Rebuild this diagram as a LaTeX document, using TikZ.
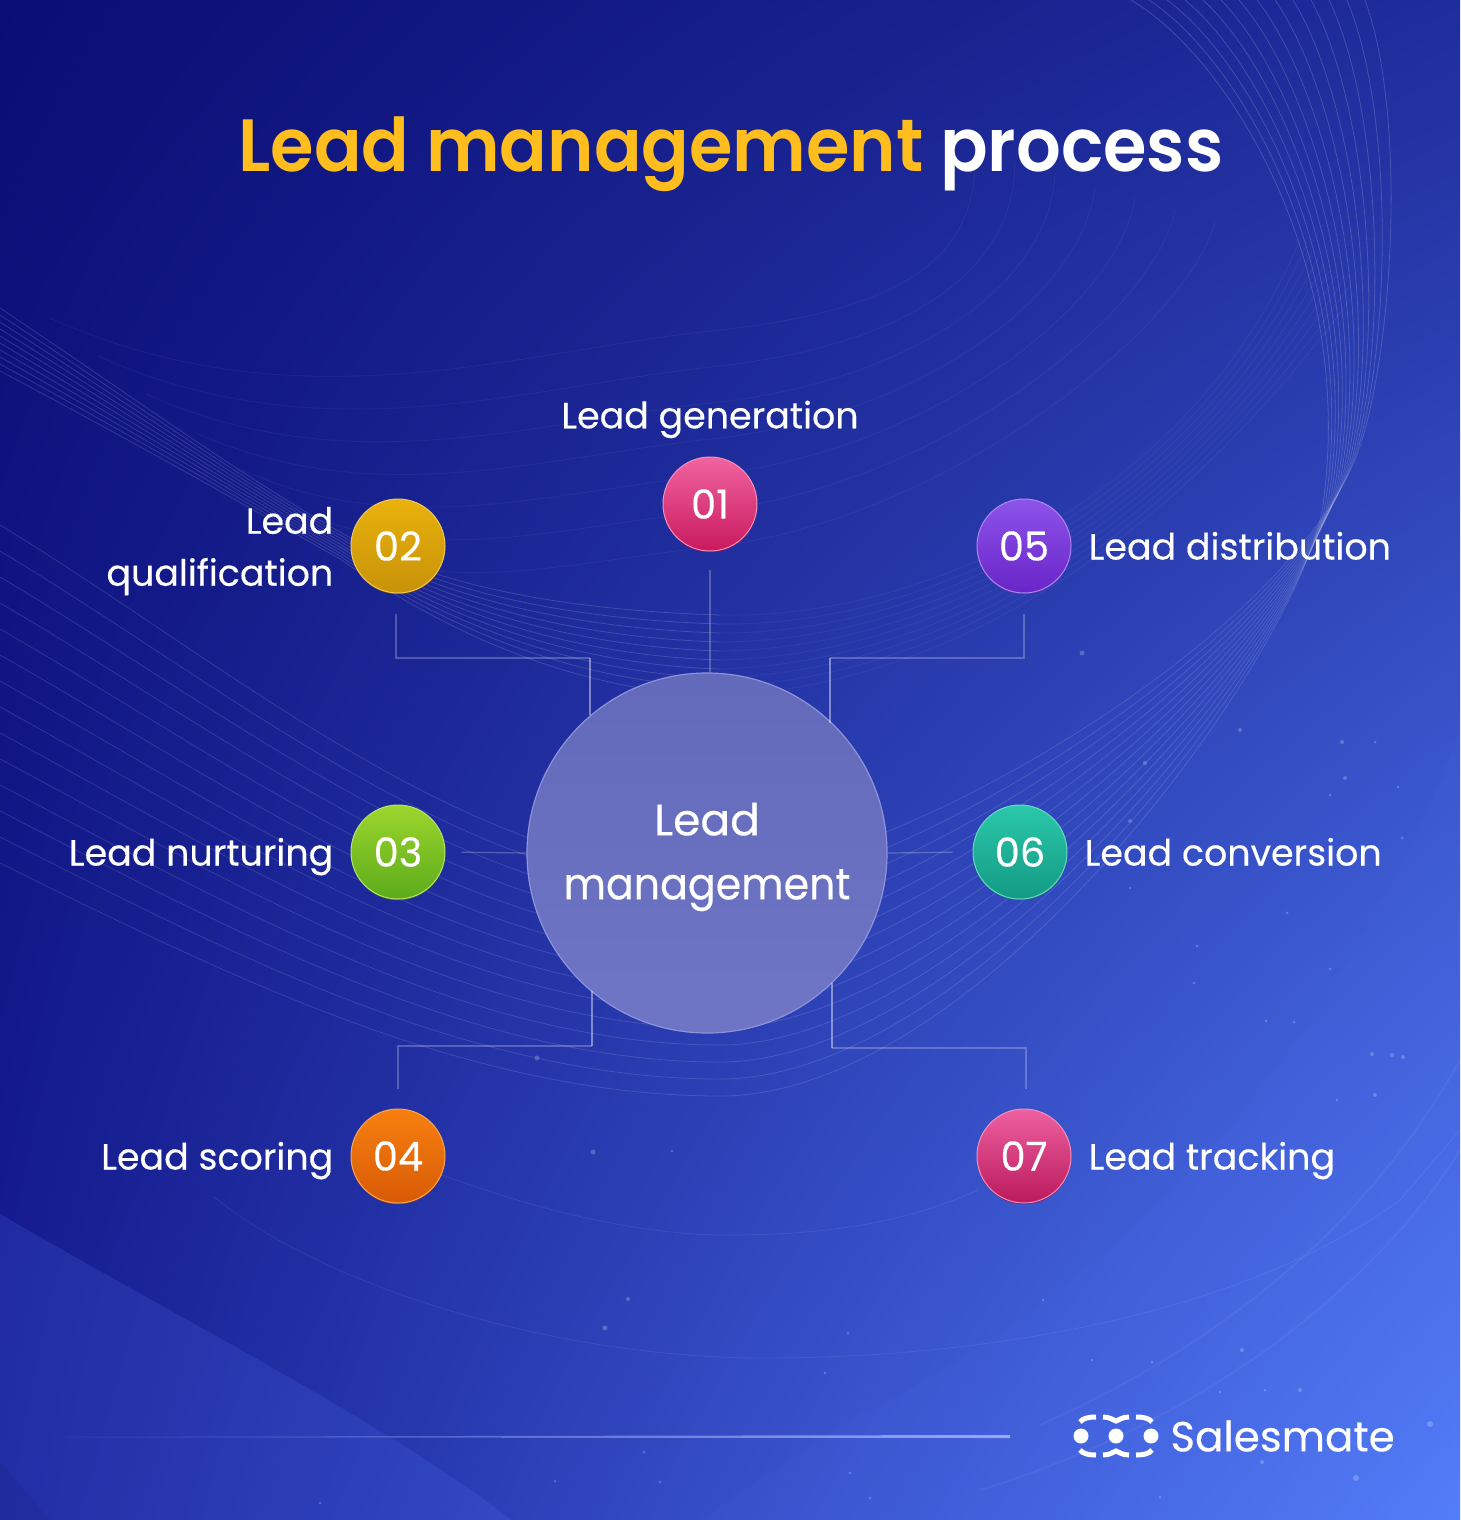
\documentclass[tikz,border=0pt]{standalone}
\usepackage{fontspec}
\setmainfont{Poppins}[FakeBold=0.3]
\newfontfamily\titlefont{Poppins SemiBold}[FakeStretch=0.95]
\usetikzlibrary{positioning,shadings}
\definecolor{leadyellow}{HTML}{FFBE1E}
\definecolor{hubfill}{HTML}{686EC2}
\definecolor{hubrim}{HTML}{8C93DA}
\definecolor{bgtl}{HTML}{0A0D74}
\definecolor{bgtr}{HTML}{1F2C9C}
\definecolor{bgbl}{HTML}{171E94}
\definecolor{bgbr}{HTML}{5580FC}
\definecolor{veil}{HTML}{4C68E8}
\definecolor{rulelow}{HTML}{2B3CB4}
\definecolor{rulehigh}{HTML}{9AA8F2}
\definecolor{pinktop}{HTML}{F0649F}
\definecolor{pinklow}{HTML}{C9195F}
\definecolor{pinkrim}{HTML}{A01050}
\definecolor{goldtop}{HTML}{E9B20C}
\definecolor{goldlow}{HTML}{C8920A}
\definecolor{goldrim}{HTML}{7A5A08}
\definecolor{limetop}{HTML}{9CD62E}
\definecolor{limelow}{HTML}{5CAB1A}
\definecolor{limerim}{HTML}{3F7A10}
\definecolor{orangetop}{HTML}{F7800F}
\definecolor{orangelow}{HTML}{D85A06}
\definecolor{orangerim}{HTML}{A84504}
\definecolor{violettop}{HTML}{8C54EA}
\definecolor{violetlow}{HTML}{6A24C8}
\definecolor{violetrim}{HTML}{5A30B0}
\definecolor{tealtop}{HTML}{2AC8AA}
\definecolor{teallow}{HTML}{149A84}
\definecolor{tealrim}{HTML}{0F7A68}
\definecolor{rosetop}{HTML}{EE60A0}
\definecolor{roselow}{HTML}{BA1A5C}
\definecolor{roserim}{HTML}{8E1045}
\tikzset{
  wave/.style={white,line width=0.8pt,opacity=#1},
  wave/.default=0.13,
  wire/.style={white,opacity=0.42,line width=1.4pt},
  wirefaint/.style={white,opacity=0.24,line width=1.2pt},
  badge/.style={circle,minimum size=94pt,inner sep=0pt,text=white,
    top color=#1top,bottom color=#1low,draw=#1top!70!white,line width=1pt,
    preaction={fill=#1rim,transform canvas={yshift=-1.2pt}},
    font=\fontsize{40}{40}\selectfont},
  caption/.style={text=white,inner sep=0pt,text height=27pt,text depth=0pt,font=\fontsize{36.4}{52}\selectfont},
  spark/.style={fill=white,opacity=0.22},
}
\begin{document}
\begin{tikzpicture}[x=1pt,y=-1pt]
  \useasboundingbox (0,0) rectangle (1460,1520);
  % background
  \shade[upper left=bgtl,upper right=bgtr,lower left=bgbl,lower right=bgbr] (0,0) rectangle (1460,1520);
  \fill[veil,opacity=0.22] (0,1214) .. controls (200,1330) and (380,1420) .. (512,1520) -- (0,1520) -- cycle;
  \fill[black,opacity=0.05] (0,1462) -- (50,1520) -- (0,1520) -- cycle;
  \fill[veil,opacity=0.12] (1460,730) .. controls (1380,950) and (1200,1250) .. (850,1420) -- (700,1520) -- (1460,1520) -- cycle;
  \draw[white,opacity=0.05,line width=2pt] (1040,1425) .. controls (1230,1340) and (1370,1220) .. (1460,1060);
  \draw[white,opacity=0.05,line width=2pt] (980,1490) .. controls (1210,1420) and (1380,1280) .. (1460,1150);
  \begin{scope}
    \clip (0,0) rectangle (1460,1520);
    % waves under the title
    \foreach \i in {0,...,6} {
      \draw[wave=0.05] ({50+48*\i},{318+38*\i}) .. controls ({300+25*\i},{430+28*\i}) and ({520+10*\i},{350+35*\i}) .. (720,{330+36*\i})
        .. controls ({900+10*\i},{310+34*\i}) and ({980+35*\i},{260+10*\i}) .. ({975+40*\i},{150+12*\i});
    }
    % swoosh on the left, opening towards the hub and rising again
    \foreach \i in {0,...,9} {
      \draw[wave=0.15] (0,{308+7*\i}) .. controls (130,{395+5*\i}) and (240,{475+3*\i}) .. (340,{532+3*\i})
        .. controls (430,{585+4*\i}) and (560,{610+9*\i}) .. (720,{615+9*\i});
      \draw[wave=0.05] (720,{615+9*\i}) .. controls ({920+6*\i},{620+7*\i}) and (1190,{500+2*\i}) .. ({1300+6*\i},{240+6*\i});
    }
    % long bowls, left to right, up into the fan
    \foreach \i in {0,...,13} {
      \draw[wave] (0,{525+26*\i}) .. controls (230,{665+24*\i}) and (470,{875+17*\i}) .. (720,{875+17*\i})
        .. controls ({880+8*\i},{875+17*\i}) and (1302,{638+0.8*\i}) .. ({1362-3*\i},{440+5*\i});
      \draw[wave=0.17] ({1362-3*\i},{440+5*\i}) .. controls ({1395-3*\i},{330-5*\i}) and ({1405-13.5*\i},{110-4*\i}) .. ({1365-18*\i},0);
    }
    % wide bowls near the foot
    \draw[wave=0.08] (380,1150) .. controls (520,1210) and (640,1235) .. (726,1235) .. controls (820,1235) and (900,1225) .. (978,1190);
    \draw[wave=0.08] (214,1197) .. controls (330,1290) and (560,1358) .. (764,1358) .. controls (1000,1358) and (1250,1310) .. (1400,1200) -- (1460,1130);
  \end{scope}
  % specks
  \foreach \x/\y/\r in {1082/653/2.5,1240/730/2,1342/742/2,1375/742/1.5,1145/763/2,1345/778/2,1398/787/1.5,1330/795/1.5,1130/821/2,1402/838/1.5,
    1130/888/1.5,1287/913/1.5,1197/946/1.5,1294/1022/1.5,1330/969/1.5,1194/983/1.5,1266/1021/1.5,1392/1055/2,1372/1054/2,537/1058/2.5,
    593/1152/2.5,672/1151/1.5,1375/1095/2,1337/1100/1.5,1403/1057/2,628/1299/2,605/1328/2.5,848/1333/1.5,1043/1300/1.5,1152/1362/1.5,
    1242/1350/2,1265/1390/1.5,1300/1390/2,1220/1392/1.5,1430/1424/3,1356/1478/3,1262/1462/2,1160/1497/1.5,555/1481/1.5,660/1482/1.5,
    320/1503/1.5,870/1498/1.5,1092/1360/1.5,825/1373/1.5,644/1452/1.5,850/1473/1.5} {
    \fill[spark] (\x,\y) circle (\r);
  }
  % rule at the foot
  \shade[left color=rulelow,right color=rulehigh] (65,1436.7) -- (1010,1435) -- (1010,1438) -- (65,1437.5) -- cycle;
  % title
  \node[inner sep=0pt,text=white,font=\titlefont\fontsize{74}{74}\selectfont] (title) at (731,154) {\textcolor{leadyellow}{Lead management} process};
  % hub
  \node[circle,minimum size=360pt,inner sep=0pt,top color=hubfill!96!black,bottom color=hubfill!95!white,draw=hubrim,line width=1.2pt] (hub) at (707,853) {};
  \node[text=white,align=center,inner sep=0pt,yshift=-4pt,font=\fontsize{44}{64}\selectfont] (hubtext) at (hub) {Lead\\\scalebox{0.935}[1]{management}};
  % badges
  \node[badge=pink] (n01) at (710,504) {01};
  \node[badge=gold] (n02) at (398,546) {02};
  \node[badge=lime] (n03) at (398,852) {03};
  \node[badge=orange] (n04) at (398,1156) {04};
  \node[badge=violet] (n05) at (1024,546) {05};
  \node[badge=teal] (n06) at (1020,852) {06};
  \node[badge=rose] (n07) at (1024,1156) {07};
  % labels
  \node[caption,above=28pt of n01] (lab01) {Lead generation};
  \node[text=white,inner sep=0pt,font=\fontsize{36.4}{52}\selectfont,left=17pt of n02,align=right,yshift=-5pt] (lab02) {Lead\\qualification};
  \node[caption,left=17pt of n03] (lab03) {Lead nurturing};
  \node[caption,left=17pt of n04] (lab04) {Lead scoring};
  \node[caption,right=17pt of n05] (lab05) {Lead distribution};
  \node[caption,right=17pt of n06] (lab06) {Lead conversion};
  \node[caption,right=17pt of n07] (lab07) {Lead tracking};
  % connectors
  \coordinate (bend02) at (590,658);
  \coordinate (bend04) at (592,1046);
  \coordinate (bend05) at (830,658);
  \coordinate (bend07) at (832,1048);
  \draw[wirefaint,shorten <=18pt] (n01.south) -- (hub.north -| n01.south);
  \draw[wirefaint,shorten <=20pt] ([xshift=-2pt]n02.south) |- (bend02);
  \draw[wire] (bend02) -- (bend02 |- hub.130.5);
  \draw[wirefaint,shorten <=16pt] (n03.east) -- (hub.west);
  \draw[wirefaint,shorten <=20pt] (n04.north) |- (bend04);
  \draw[wire] (bend04) -- (bend04 |- hub.230);
  \draw[wirefaint,shorten <=20pt] (n05.south) |- (bend05);
  \draw[wire] (bend05) -- (bend05 |- hub.46.9);
  \draw[wirefaint,shorten <=20pt] (n06.west) -- (hub.east);
  \draw[wirefaint,shorten <=20pt] ([xshift=2pt]n07.north) |- (bend07);
  \draw[wire] (bend07) -- (bend07 |- hub.314);
  % logo
  \node[circle,fill=white,minimum size=15pt,inner sep=0pt] (dotL) at (1081,1436) {};
  \node[circle,fill=white,minimum size=15pt,inner sep=0pt] (dotM) at (1116,1436) {};
  \node[circle,fill=white,minimum size=15pt,inner sep=0pt] (dotR) at (1151,1436) {};
  \foreach \s in {-1,1} {
    \draw[white,line width=5pt] (1080,{1436+\s*14}) .. controls (1083,{1436+\s*18}) and (1089,{1436+\s*19}) .. (1096,{1436+\s*19});
    \draw[white,line width=5pt] (1103,{1436+\s*19}) .. controls (1110,{1436+\s*19}) and (1113,{1436+\s*16}) .. (1116,{1436+\s*15}) .. controls (1119,{1436+\s*16}) and (1122,{1436+\s*19}) .. (1129,{1436+\s*19});
    \draw[white,line width=5pt] (1136,{1436+\s*19}) .. controls (1143,{1436+\s*19}) and (1149,{1436+\s*18}) .. (1152,{1436+\s*14});
  }
  \node[text=white,inner sep=0pt,font=\fontsize{42}{42}\selectfont,right=11.5pt of dotR] (brand) {Salesmate};
\end{tikzpicture}
\end{document}
